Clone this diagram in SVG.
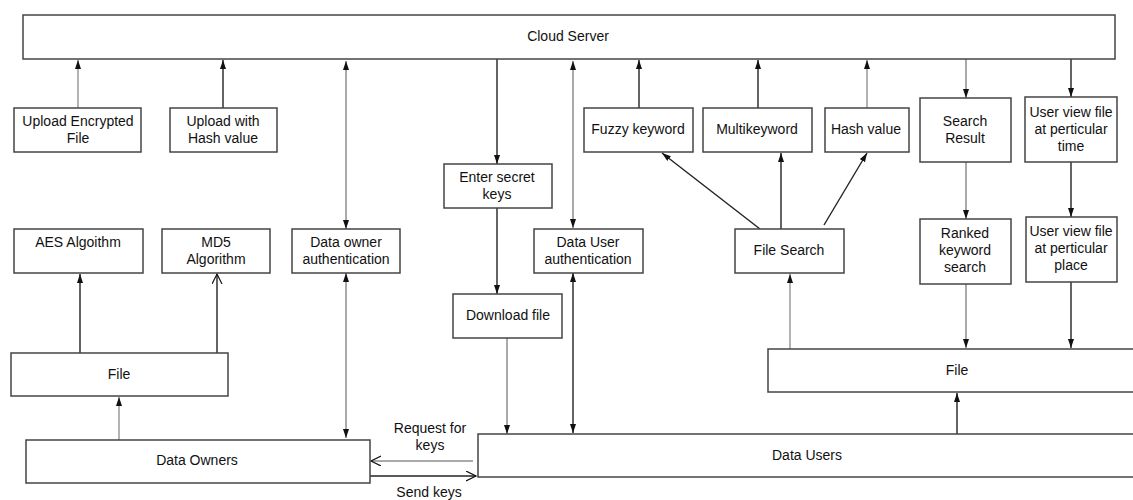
<svg xmlns="http://www.w3.org/2000/svg" width="1133" height="500" viewBox="0 0 1133 500">
  <style>
    .box { fill: #ffffff; stroke: #444444; stroke-width: 1.5; }
    .lbl { font-family: "Liberation Sans", Arial, sans-serif; font-size: 14px; fill: #111111; text-anchor: middle; }
    .ln { fill: none; stroke: #222222; stroke-width: 1.4; }
    .thin { fill: none; stroke: #555555; stroke-width: 1; }
    .grey { fill: none; stroke: #8a8a8a; stroke-width: 1.3; }
  </style>
  <defs>
    <marker id="tri" markerUnits="userSpaceOnUse" markerWidth="10" markerHeight="8" refX="9" refY="3" orient="auto-start-reverse">
      <path d="M0,0 L9,3 L0,6 z" fill="#111111"/>
    </marker>
    <marker id="open" markerUnits="userSpaceOnUse" markerWidth="12" markerHeight="12" refX="10" refY="5" orient="auto-start-reverse">
      <path d="M0,0 L10,5 L0,10" fill="none" stroke="#111111" stroke-width="1.2"/>
    </marker>
  </defs>

  <rect width="1133" height="500" fill="#ffffff"/>

  <!-- connectors -->
  <g id="connectors">
    <line class="grey" x1="78" y1="108" x2="78" y2="60" marker-end="url(#tri)"/>
    <line class="ln" x1="223" y1="108" x2="223" y2="60" marker-end="url(#tri)"/>
    <line class="thin" x1="346" y1="229" x2="346" y2="61" marker-start="url(#tri)" marker-end="url(#tri)"/>
    <line class="ln" x1="80" y1="353" x2="80" y2="274" marker-end="url(#tri)"/>
    <line class="ln" x1="217" y1="353" x2="217" y2="274" marker-end="url(#open)"/>
    <line class="grey" x1="119" y1="440" x2="119" y2="397" marker-end="url(#tri)"/>
    <line class="thin" x1="346" y1="273" x2="346" y2="438" marker-start="url(#tri)" marker-end="url(#tri)"/>
    <line class="thin" x1="473" y1="461" x2="371" y2="461" marker-end="url(#open)"/>
    <line class="ln" x1="370" y1="476" x2="476" y2="476" marker-end="url(#open)"/>
    <line class="ln" x1="497" y1="59" x2="497" y2="164" marker-end="url(#tri)"/>
    <line class="ln" x1="497" y1="208" x2="497" y2="294" marker-end="url(#tri)"/>
    <line class="thin" x1="507" y1="338" x2="507" y2="434" marker-end="url(#tri)"/>
    <line class="thin" x1="573" y1="228" x2="573" y2="61" marker-start="url(#tri)" marker-end="url(#tri)"/>
    <line class="ln" x1="573" y1="273" x2="573" y2="433" marker-start="url(#tri)" marker-end="url(#tri)"/>
    <line class="ln" x1="639" y1="108" x2="639" y2="60" marker-end="url(#tri)"/>
    <line class="ln" x1="758" y1="108" x2="758" y2="60" marker-end="url(#tri)"/>
    <line class="grey" x1="867" y1="108" x2="867" y2="60" marker-end="url(#tri)"/>
    <line class="ln" x1="760" y1="229" x2="662" y2="153" marker-end="url(#tri)"/>
    <line class="ln" x1="781" y1="229" x2="781" y2="153" marker-end="url(#tri)"/>
    <line class="ln" x1="824" y1="225" x2="867" y2="153" marker-end="url(#tri)"/>
    <line class="grey" x1="790" y1="349" x2="790" y2="274" marker-end="url(#tri)"/>
    <line class="thin" x1="966" y1="59" x2="966" y2="98" marker-end="url(#tri)"/>
    <line class="thin" x1="966" y1="162" x2="966" y2="219" marker-end="url(#tri)"/>
    <line class="thin" x1="966" y1="284" x2="966" y2="348" marker-end="url(#tri)"/>
    <line class="ln" x1="1071" y1="59" x2="1071" y2="97" marker-end="url(#tri)"/>
    <line class="ln" x1="1071" y1="162" x2="1071" y2="217" marker-end="url(#tri)"/>
    <line class="ln" x1="1071" y1="282" x2="1071" y2="348" marker-end="url(#tri)"/>
    <line class="ln" x1="957" y1="434" x2="957" y2="393" marker-end="url(#tri)"/>
    <text class="lbl" x="430" y="433">Request for</text>
    <text class="lbl" x="430" y="450">keys</text>
    <text class="lbl" x="429" y="497">Send keys</text>
  </g>

  <!-- nodes -->
  <g id="cloud-server">
    <rect class="box" x="23" y="15" width="1092" height="44"/>
    <text class="lbl" x="568" y="41">Cloud Server</text>
  </g>
  <g id="upload-encrypted">
    <rect class="box" x="14" y="108" width="127" height="44"/>
    <text class="lbl" x="78" y="126">Upload Encrypted</text>
    <text class="lbl" x="78" y="143">File</text>
  </g>
  <g id="upload-hash">
    <rect class="box" x="170" y="108" width="107" height="44"/>
    <text class="lbl" x="223" y="126">Upload with</text>
    <text class="lbl" x="223" y="143">Hash value</text>
  </g>
  <g id="aes">
    <rect class="box" x="14" y="229" width="129" height="44"/>
    <text class="lbl" x="78" y="247">AES Algoithm</text>
  </g>
  <g id="md5">
    <rect class="box" x="162" y="229" width="108" height="44"/>
    <text class="lbl" x="216" y="247">MD5</text>
    <text class="lbl" x="216" y="264">Algorithm</text>
  </g>
  <g id="owner-auth">
    <rect class="box" x="292" y="229" width="108" height="44"/>
    <text class="lbl" x="346" y="247">Data owner</text>
    <text class="lbl" x="346" y="264">authentication</text>
  </g>
  <g id="owner-file">
    <rect class="box" x="11" y="353" width="217" height="43"/>
    <text class="lbl" x="119" y="379">File</text>
  </g>
  <g id="data-owners">
    <rect class="box" x="26" y="440" width="344" height="43"/>
    <text class="lbl" x="197" y="465">Data Owners</text>
  </g>
  <g id="secret-keys">
    <rect class="box" x="444" y="164" width="108" height="44"/>
    <text class="lbl" x="497" y="182">Enter secret</text>
    <text class="lbl" x="497" y="199">keys</text>
  </g>
  <g id="download">
    <rect class="box" x="453" y="294" width="109" height="44"/>
    <text class="lbl" x="508" y="320">Download file</text>
  </g>
  <g id="user-auth">
    <rect class="box" x="534" y="229" width="109" height="44"/>
    <text class="lbl" x="588" y="247">Data User</text>
    <text class="lbl" x="588" y="264">authentication</text>
  </g>
  <g id="fuzzy">
    <rect class="box" x="584" y="108" width="109" height="44"/>
    <text class="lbl" x="638" y="134">Fuzzy keyword</text>
  </g>
  <g id="multikeyword">
    <rect class="box" x="703" y="108" width="109" height="44"/>
    <text class="lbl" x="757" y="134">Multikeyword</text>
  </g>
  <g id="hash-value">
    <rect class="box" x="825" y="108" width="84" height="44"/>
    <text class="lbl" x="866" y="134">Hash value</text>
  </g>
  <g id="file-search">
    <rect class="box" x="735" y="229" width="109" height="44"/>
    <text class="lbl" x="789" y="255">File Search</text>
  </g>
  <g id="search-result">
    <rect class="box" x="920" y="98" width="91" height="64"/>
    <text class="lbl" x="965" y="126">Search</text>
    <text class="lbl" x="965" y="143">Result</text>
  </g>
  <g id="view-time">
    <rect class="box" x="1025" y="97" width="92" height="65"/>
    <text class="lbl" x="1071" y="117">User view file</text>
    <text class="lbl" x="1071" y="134">at perticular</text>
    <text class="lbl" x="1071" y="151">time</text>
  </g>
  <g id="ranked">
    <rect class="box" x="920" y="219" width="91" height="65"/>
    <text class="lbl" x="965" y="238">Ranked</text>
    <text class="lbl" x="965" y="255">keyword</text>
    <text class="lbl" x="965" y="272">search</text>
  </g>
  <g id="view-place">
    <rect class="box" x="1026" y="217" width="91" height="65"/>
    <text class="lbl" x="1071" y="236">User view file</text>
    <text class="lbl" x="1071" y="253">at perticular</text>
    <text class="lbl" x="1071" y="270">place</text>
  </g>
  <g id="user-file">
    <rect class="box" x="768" y="349" width="400" height="43"/>
    <text class="lbl" x="957" y="375">File</text>
  </g>
  <g id="data-users">
    <rect class="box" x="478" y="434" width="700" height="43"/>
    <text class="lbl" x="807" y="460">Data Users</text>
  </g>
</svg>
